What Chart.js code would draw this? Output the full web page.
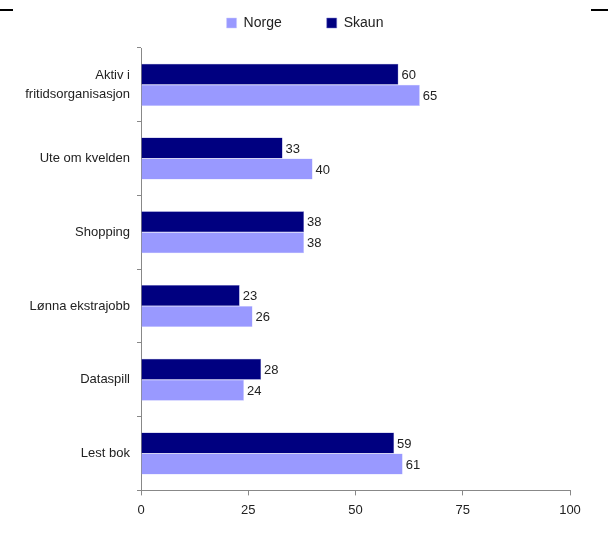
<!DOCTYPE html>
<html>
<head>
<meta charset="utf-8">
<script src="https://cdn.jsdelivr.net/npm/chart.js@4/dist/chart.umd.min.js"></script>
<style>
  html, body { margin: 0; padding: 0; background: #fff; }
  #wrap { position: relative; width: 608px; height: 546px; }
  .mark { position: absolute; height: 2px; background: #000; top: 9px; }
</style>
</head>
<body>
<div id="wrap">
  <div class="mark" style="left:0;width:13px"></div>
  <div class="mark" style="left:591px;width:17px"></div>
  <canvas id="myChart" width="608" height="546"></canvas>
</div>
<script>
let categories = [['Aktiv i', 'fritidsorganisasjon'], 'Ute om kvelden', 'Shopping', 'Lønna ekstrajobb', 'Dataspill', 'Lest bok'];
let skaun = [60, 33, 38, 23, 28, 59];
let norge = [65, 40, 38, 26, 24, 61];
let xTicks = [0, 25, 50, 75, 100];

const fontFamily = '"Liberation Sans", Arial, sans-serif';

// draws the value to the right of each bar
const valueLabels = {
    id: 'valueLabels',
    afterDatasetsDraw(chart) {
        let ctx = chart.ctx;
        ctx.save();
        ctx.font = '13px ' + fontFamily;
        ctx.fillStyle = '#222';
        ctx.textBaseline = 'middle';
        chart.data.datasets.forEach((ds, i) => {
            chart.getDatasetMeta(i).data.forEach((bar, j) => {
                ctx.fillText(ds.data[j], bar.x + 3, bar.y + 1);
            });
        });
        ctx.restore();
    }
};

// legend: wide gap between items but a short box, nudged sideways
const legendTweak = {
    id: 'legendTweak',
    beforeLayout(chart) {
        let lg = chart.legend;
        if (lg && !lg._tweaked) {
            let fit = lg.fit;
            lg.fit = function () {
                fit.call(this);
                this.height += 8;
            };
            lg._tweaked = true;
        }
    },
    afterLayout(chart) {
        let lg = chart.legend;
        if (lg) {
            lg.left += 20;
            lg.right += 20;
        }
    }
};

const config = {
    type: 'bar',
    data: {
        labels: categories,
        datasets: [
            { label: 'Skaun', data: skaun, backgroundColor: '#000080', borderColor: '#7777cc', borderWidth: 0.5 },
            { label: 'Norge', data: norge, backgroundColor: '#9999ff', borderColor: '#c8c8ff', borderWidth: 0.5 }
        ]
    },
    options: {
        indexAxis: 'y',
        responsive: false,
        animation: false,
        layout: { padding: { top: -29, right: 38, left: 0, bottom: 21 } },
        plugins: {
            legend: {
                labels: {
                    boxWidth: 10,
                    boxHeight: 10,
                    color: '#222',
                    padding: 45,
                    font: { size: 14, family: fontFamily },
                    sort: (a, b) => b.datasetIndex - a.datasetIndex
                }
            },
            tooltip: { enabled: false }
        },
        datasets: { bar: { categoryPercentage: 0.57, barPercentage: 1 } },
        scales: {
            x: {
                min: 0,
                max: 100,
                afterBuildTicks: (scale) => { scale.ticks = xTicks.map(v => ({ value: v })); },
                grid: { drawOnChartArea: false, tickLength: 5, color: '#888' },
                border: { color: '#888' },
                ticks: { color: '#222', padding: 7, font: { size: 13, family: fontFamily } }
            },
            y: {
                afterFit: (scale) => { scale.width = 141; },
                grid: { drawOnChartArea: false, offset: true, tickLength: 4, color: '#888' },
                border: { color: '#888' },
                ticks: { color: '#222', padding: 7, font: { size: 13, family: fontFamily, lineHeight: 1.4 } }
            }
        }
    },
    plugins: [valueLabels, legendTweak]
};

const myChart = new Chart(document.getElementById('myChart'), config);
</script>
</body>
</html>
